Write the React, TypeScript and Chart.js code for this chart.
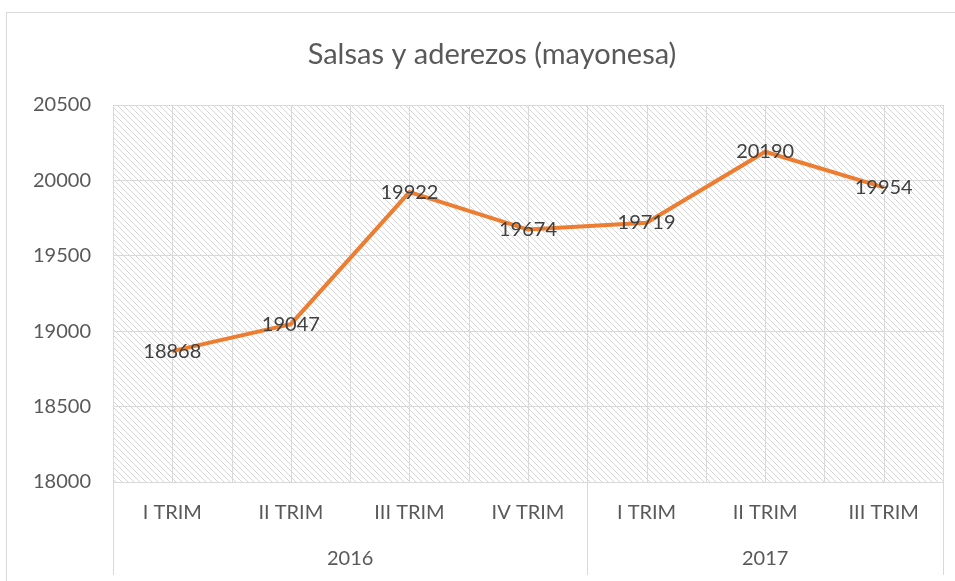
import React, { useEffect, useRef } from "react";
import { Chart, registerables } from "chart.js";

Chart.register(...registerables);

const TITLE = "Salsas y aderezos (mayonesa)";
const quarters = ["I TRIM", "II TRIM", "III TRIM", "IV TRIM", "I TRIM", "II TRIM", "III TRIM"];
const values = [18868, 19047, 19922, 19674, 19719, 20190, 19954];
const years = ["2016", "2017"];
const yearSpans = [4, 3];
const yMin = 18000;
const yMax = 20500;
const yStep = 500;

const FONT = "Lato, 'Liberation Sans', sans-serif";
const GRID = "#d9d9d9";

function makePattern(ctx: CanvasRenderingContext2D) {
  const P = 12;
  const c = document.createElement("canvas");
  c.width = P;
  c.height = P;
  const p = c.getContext("2d")!;
  p.fillStyle = "#ffffff";
  p.fillRect(0, 0, P, P);
  p.fillStyle = "#d6d6d6";
  for (let i = 0; i < P; i++) {
    p.fillRect(i, i, 1, 1);
    p.fillRect(i, (i + P / 2) % P, 1, 1);
  }
  return ctx.createPattern(c, "repeat")!;
}

const decorPlugin = {
  id: "decor",
  beforeDraw(chart: any) {
    const { ctx, chartArea, width, height } = chart;
    ctx.save();
    ctx.fillStyle = "#ffffff";
    ctx.fillRect(0, 0, width, height);
    ctx.strokeStyle = GRID;
    ctx.lineWidth = 1;
    ctx.strokeRect(6.5, 12.5, width + 20, height + 20);
    ctx.fillStyle = makePattern(ctx);
    ctx.fillRect(chartArea.left, chartArea.top, chartArea.right - chartArea.left, chartArea.bottom - chartArea.top);
    // title
    ctx.fillStyle = "#595959";
    ctx.font = `29px ${FONT}`;
    ctx.textAlign = "center";
    ctx.textBaseline = "middle";
    ctx.fillText(TITLE, 492, 55);
    ctx.restore();
  },
  beforeDatasetsDraw(chart: any) {
    const { ctx, chartArea, scales } = chart;
    const x = scales.x;
    const n = quarters.length;
    const half = (x.getPixelForValue(1) - x.getPixelForValue(0)) / 2;
    ctx.save();
    ctx.strokeStyle = GRID;
    ctx.lineWidth = 1;
    for (let i = 0; i < n; i++) {
      const c = x.getPixelForValue(i);
      const xs = [c - half, c];
      if (i === n - 1) xs.push(c + half);
      for (const px of xs) {
        const p = Math.round(px) + 0.5;
        ctx.beginPath();
        ctx.moveTo(p, chartArea.top);
        ctx.lineTo(p, chartArea.bottom);
        ctx.stroke();
      }
    }
    // year separators and labels
    let start = 0;
    const bounds: number[] = [x.getPixelForValue(0) - half];
    ctx.fillStyle = "#595959";
    ctx.font = `20px ${FONT}`;
    ctx.textAlign = "center";
    ctx.textBaseline = "middle";
    years.forEach((yr, k) => {
      const end = start + yearSpans[k] - 1;
      const cx = (x.getPixelForValue(start) + x.getPixelForValue(end)) / 2;
      ctx.fillText(yr, cx, chartArea.bottom + 77);
      bounds.push(x.getPixelForValue(end) + half);
      start = end + 1;
    });
    for (const b of bounds) {
      const p = Math.round(b) + 0.5;
      ctx.beginPath();
      ctx.moveTo(p, chartArea.bottom);
      ctx.lineTo(p, chartArea.bottom + 93);
      ctx.stroke();
    }
    ctx.restore();
  },
  afterDatasetsDraw(chart: any) {
    const { ctx } = chart;
    const meta = chart.getDatasetMeta(0);
    ctx.save();
    ctx.fillStyle = "#404040";
    ctx.font = `20px ${FONT}`;
    ctx.textAlign = "center";
    ctx.textBaseline = "middle";
    meta.data.forEach((pt: any, i: number) => {
      ctx.fillText(String(values[i]), pt.x, pt.y);
    });
    ctx.restore();
  },
};

export default function App() {
  const ref = useRef<HTMLCanvasElement>(null);
  useEffect(() => {
    const chart = new Chart(ref.current!, {
      type: "line",
      data: {
        labels: quarters,
        datasets: [
          {
            data: values,
            borderColor: "#ED7D31",
            borderWidth: 4,
            pointRadius: 0,
            tension: 0,
            fill: false,
          },
        ],
      },
      options: {
        animation: false,
        responsive: false,
        layout: { padding: { left: 6, right: 12, top: 105, bottom: 0 } },
        plugins: {
          legend: { display: false },
          tooltip: { enabled: false },
          title: { display: false },
        },
        scales: {
          x: {
            type: "category",
            offset: true,
            grid: { display: false, drawTicks: false },
            border: { display: false },
            ticks: {
              color: "#595959",
              font: { family: FONT, size: 20 },
              padding: 19,
              maxRotation: 0,
              autoSkip: false,
            },
            afterFit: (s: any) => {
              s.height = 99;
            },
          },
          y: {
            min: yMin,
            max: yMax,
            grid: { color: GRID, drawTicks: false },
            border: { display: false },
            ticks: {
              stepSize: yStep,
              color: "#595959",
              font: { family: FONT, size: 20 },
              padding: 22,
              callback: (v: any) => String(v),
            },
            afterFit: (s: any) => {
              s.width = 107;
            },
          },
        },
      },
      plugins: [decorPlugin],
    });
    return () => chart.destroy();
  }, []);
  return (
    <div style={{ position: "fixed", left: 0, top: 0, width: 955, height: 581 }}>
      <canvas ref={ref} width={955} height={581} />
    </div>
  );
}
